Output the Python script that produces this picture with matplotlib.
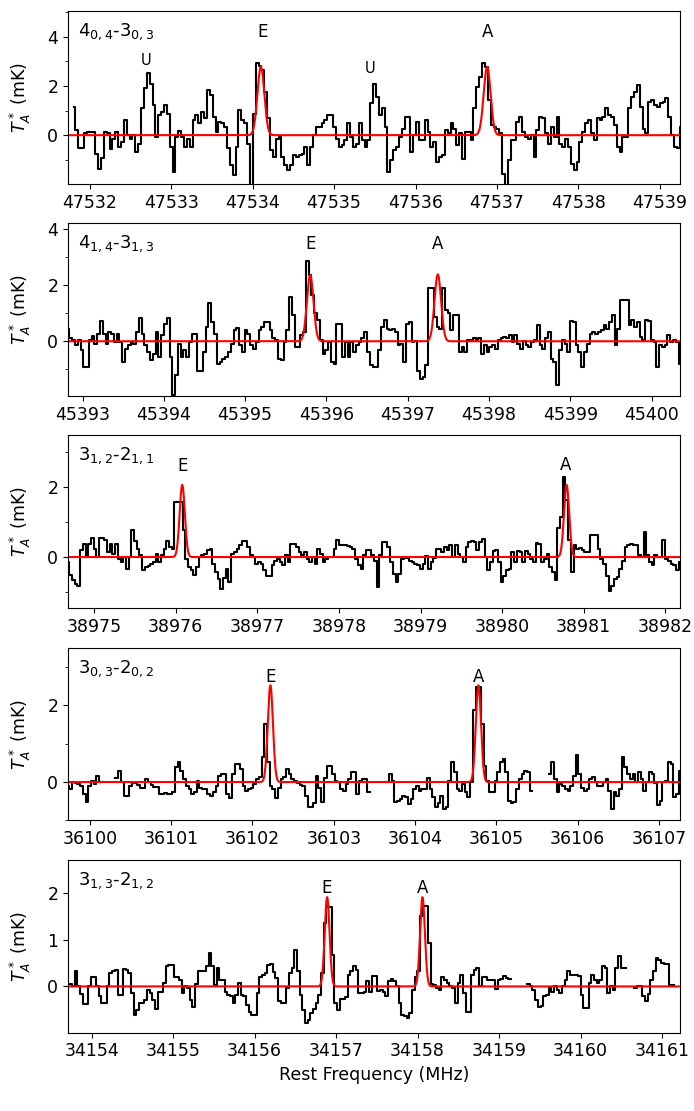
import numpy as np
import matplotlib.pyplot as plt
from matplotlib.ticker import MultipleLocator

plt.rcParams['axes.formatter.useoffset'] = False

# ---- observed spectra (mK), one value per channel, NaN = no data ----
spec_4044 = [1.16, 0.2, -0.54, -0.54, 0.07, 0.14, 0.14, 0.14, -0.78, -1.36, -0.91, 0.14, 0.07, -0.58, -0.14, 0.14,
             -0.48, -0.27, 0.61, 0, -0.14, 0, -0.68, -0.34, 1.09, 1.9, 2.54, 2.1, 1.22, -0.07, 0.82, 0.95, 1.22, 0.88,
             -0.48, -1.5, -0.07, 0.16, -0.07, -0.48, -0.14, -0.48, 0.61, 0.82, 0.48, 0.95, 0.68, 1.84, 1.63, 0.75, 0.14,
             0.54, 0.48, 0.34, -0.54, -1.22, -1.63, -0.48, 1.02, 0.61, 0.48, -0.34, -2.3, 0.88, 2.95, 2.8, 2.65, 1.77,
             0.68, -0.61, -0.88, -0.14, -0.07, -0.88, -1.22, -1.43, -1.22, -0.82, -0.88, -0.82, -0.75, -0.48, -1.22,
             -0.48, 0, 0.34, 0.34, 0.48, 0.61, 0.82, 0.82, 0.34, -0.14, -0.48, -0.41, -0.2, 0.48, -0.07, -0.48, -0.34,
             0.5, -0.2, -0.48, -0.2, 1.29, 2.1, 1.56, 0.82, 1.09, 0.34,
             -1.5, -1.02, -0.61, -0.48, -0.07, 0.27, 0.75, 0.75, -0.68, 0, 0.54, -0.2, -0.2, 0.61, 0.14, -0.48, -0.27,
             -1.09, -0.88, -0.82, 0.2, 0.07, 0.48, 0.27, -0.41, 0.07, -0.95, 0.14, 0.14, -0.2, 1.09, 1.97, 2.38, 2.92,
             2.79, 1.43, 0.41, 0.34, 0.27, 0.07, -1.56, -2.2, -1.02, -0.2, -0.2, 0.54, 0.75, 0.14, -0.07, -0.14, 0,
             -0.88, 0.2, 0.75, 0.68, 0.07, -0.34, 0.34, -0.07, 0.75, -0.34, -0.48, -0.14, -0.48, -1.16, -1.43, -1.09,
             -0.27, 0.14, 0.48, 0.61, 0.07, -0.2, 0.68, 0.61, 0.75, 1.09, 0.82, 0.75, 0.41, -0.48, -0.68, -0.07, -0.07,
             1.09, 1.56, 1.77, 2.04, 1.16, 0.27, 0.07, 1.36, 1.43, 1.22, 1.16, 1.29, 1.36, 1.5, 0.75, 0, -0.48, -0.54,
             0.34, 1.29]

spec_4131 = [0.43, 0.10, 0.04, -0.14, 0.04, -0.32, -0.92, -0.92, 0.04, 0.18, -0.08, 0.27, 0.71, 0.27, -0.08, 0.33,
             0.27, -0.02, 0.27, -0.02, -0.74, -0.26, -0.14, -0.02, -0.08, 0.33, 0.81, 0.27, -0.14, -0.38, -0.68, -0.44,
             0.33, -0.56, 0.21, 0.63, 0.81, -0.56, -1.90, -1.21, -0.08, -0.56, -0.32, -0.56, -0.02, 0.27, 0.27, -1.04,
             -1.04, -0.38, 0.51, 1.35, 0.69, 0.27, -0.80, -0.74, -0.62, -0.56, -0.38, -0.08, 0.39, 0.48, -0.14, -0.38,
             0.39, 0.27, -0.14, -0.26, -0.02, 0.39, 0.51, 0.69, 0.69, 0.39, 0.10, 0.04, -0.62, -0.68, -0.02, 0.39, 1.58,
             0.93, -0.20, -0.20, 0.21, 0.33, 2.86, 2.36, 1.64, 0.99, 0.75, 0.04, -0.44, -0.32, -0.02, -0.74, -0.80,
             0.63, 0.60, -0.56, -0.02, -0.56, -0.02, -0.38, -0.14, -0.02, 0.10, 0.33, -0.38, -0.86, -0.92, -0.92,
             -0.32, 0.51, 0.75, 0.45, 0.39, 0.43, 0.33, -0.14, -0.08, -0.74, 0.63, 0.67, -0.02, 0, -1.04, -1.33, -1.27,
             -0.86, 1.90, 1.90, 0.87, 0.51, 0.45, 1.88, 1.11, 0.99, 0.39, 0.93, 0.93, -0.38, -0.20, -0.38, 0.04, 0.04,
             0.10, 0.04, 0.12, -0.44, -0.14, -0.38, -0.20, -0.14, -0.26, 0.04, 0.10, 0.15, 0.10, 0.21, -0.02, 0.21,
             -0.08, -0.26, 0, -0.14, -0.20, -0.02, 0.04, 0.57, -0.14, -0.29, 0.10, 0.33, -0.62, -0.74, -1.57, -0.32,
             0.04, -0.08, -0.38, 0.71, 0.69, -0.14, -0.38, -0.92, -0.38, -0.08, 0.27, 0.33, 0.27, 0.33, 0.39, 0.57,
             0.45, 0.69, 0.93, -0.14, 0.45, 1.46, 1.46, 1.46, 0.57, 0.75, 0.51, 0.69, 0.15, 0.04, 0.75, 0.71, 0.04,
             -0.02, -0.92, -0.14, -0.20, -0.14, 0.21, -0.02, 0.04, -0.02, -0.80]

spec_3121 = [-0.14, -0.51, -0.67, -0.77, -0.82, 0.19, 0.38, 0, 0.38, 0.55, 0.24, 0, 0.55, 0.55, 0.48, 0.14, 0.38,
             0.10, 0.38, -0.05, -0.14, 0, -0.34, 0, 0.77, 0.45, 0.24, 0.05, -0.36, -0.29, -0.26, -0.19, -0.14, 0.10,
             -0.13, 0.07, 0.24, 0.45, 0.29, 0.24, 1.57, 1.57, 1.57, 0.77, -0.05, -0.29, -0.38, -0.51, -0.29, 0, 0.05,
             0.10, 0.19, 0.24, -0.19, -0.43, -0.64, -0.91, -0.61, -0.34, -0.72, 0.10, 0.14, 0.24, 0.34, 0.45, 0.45,
             0.29, 0.05, 0, -0.19, -0.14, -0.19, -0.36, -0.53, -0.53, -0.24, -0.10, -0.05, -0.14, -0.24, 0.05, -0.14,
             0.38, 0.38, 0.29, 0.14, 0.05, 0.14, -0.05, -0.14, 0, -0.19, 0.24, 0.10, -0.14, -0.07, 0, 0, 0.24, 0.48,
             0.36, 0.34, 0.34, 0.32, 0.29, 0.24, -0.05, -0.24, -0.34, 0.05, 0.19, 0.19, 0.05, -0.10, -0.87,
             0.05, 0.43, 0.43, 0.29, -0.14, -0.48, -0.72, -0.48, -0.07, 0, -0.03, -0.10, -0.14, -0.19, -0.24, -0.34,
             -0.19, 0.03, -0.34, -0.14, -0.03, 0.24, 0.24, 0.14, 0.29, 0.19, 0.34, 0, 0.34, 0.10, 0, -0.14, 0.29, 0.43,
             0.45, 0.43, 0.19, 0.43, 0.51, 0, -0.38, -0.14, 0.16, 0.19, -0.14, -0.72, -0.53, -0.38, -0.34, 0.14, -0.14,
             0.16, 0.14, -0.14, 0.16, 0.10, -0.05, -0.14, 0.41, 0.38, -0.14, -0.05, 0.10, -0.29, -0.43, -0.67, 0.84,
             1.15, 2.31, 1.63, 0.48, -0.43, 0.34, 0.24, 0.26, 0.19, 0.14, 0.14, 0.63, 0.63, 0.63, 0.24, -0.05, -0.19,
             -0.53, -0.96, -0.82, -0.63, -0.58, -0.34, -0.10, 0.29, 0.36, 0.38, 0.34, 0.34, 0.05, 0, 0.72, 0.05, -0.14,
             -0.24, 0.05, 0, 0, 0.48, -0.05, -0.10, -0.19, -0.24, -0.38, -0.14]

nan = np.nan
spec_3020 = [-0.09, -0.19, 0, -0.02, -0.04, -0.09, -0.30, -0.52, -0.09, 0.04, -0.04, 0.17, 0,
             nan, nan, nan, nan, nan,
             0.10, 0.30, 0, -0.37, -0.37, -0.09, -0.02, -0.02, -0.07, -0.16, -0.16, 0.09, 0, -0.07, -0.13, -0.13,
             -0.30, -0.30, -0.28, -0.30, -0.30, -0.26, 0.39, 0.52, 0.28, 0.09, -0.09, -0.17, -0.30, -0.26, 0.02, -0.16,
             -0.17, -0.19, -0.30, -0.35, -0.26, -0.09, 0.17, 0.22, 0.22, -0.30, -0.42, 0.22, 0.48, 0.48, 0.35, -0.09,
             -0.22, -0.17, -0.16, -0.04, 0.09, 0.13, 0.65, 1.50, 0.52, -0.09, -0.19, -0.42, -0.16, 0.07, 0.13, 0.33,
             0.22, 0.07, 0.04, -0.02, -0.07, -0.09, -0.35, -0.65, -0.65, -0.54, 0.16, -0.16, -0.52, 0.10, 0.43, 0.43,
             0.22, 0.04, 0, -0.17, -0.22, -0.04, 0.09, 0.26, 0.26, -0.30, 0.02, 0.09, 0.09, -0.26,
             nan, nan, nan, nan, nan, nan,
             0, 0.20, 0.04, -0.52, -0.50, -0.45, -0.37, -0.39, -0.57, -0.43, -0.19, -0.09, -0.22, -0.17, -0.17, 0.10,
             -0.19, -0.39, -0.65, -0.54, -0.35, -0.70, -0.65, 0.04, 0.52, 0.26, -0.17, -0.24, -0.04, -0.26, -0.39, 0,
             1.87, 2.48, 2.48, 1.52, 0.43, 0.04, -0.26, -0.26, 0.02, 0.26, 0.52, 0.59, 0.26, -0.50, -0.54, -0.52,
             -0.17, 0.09, 0.22, 0.30, 0.26, -0.22,
             nan, nan, nan, nan, nan, nan,
             0.22, 0.52, 0.09, -0.26, -0.04, -0.09, -0.17, -0.24, -0.09, 0.17, 0.70, 0.22, -0.16, -0.22, -0.17, 0.09,
             0.12, 0, -0.09, -0.10, 0, 0.09, -0.22, -0.70, -0.26, -0.35, -0.17, 0.65, 0.39, 0.22, 0.09, 0.22, 0, 0.26,
             0.09, -0.22, 0, 0.26, 0.22, -0.02, -0.59, -0.48, 0, 0.04, 0.52, 0.48, -0.39, -0.30, 0.30]

spec_3121b = [0.06, 0.06, 0.01, 0.32, 0.01, -0.16, -0.38, -0.38, 0, 0.20, 0.20, 0, -0.21, -0.36, -0.36, 0, 0.29,
              0.32, 0.36, -0.18, -0.18, 0.37, 0.36, 0.29, -0.14, -0.61, -0.50, -0.36, -0.36, -0.29, -0.07, -0.13,
              -0.29, -0.49, -0.11, -0.11, 0.07, 0.43, 0.46, 0.46, 0.21, 0.20, 0.14, -0.14, 0, -0.04, -0.29, -0.43,
              0.06, 0.32, 0.34, 0.34, 0.43, 0.71, 0.43, 0.04, 0.39, 0.14, 0.14, -0.11, -0.18, -0.21, -0.36, -0.18,
              0.07, -0.18, -0.21, -0.39, -0.54, -0.61, -0.61, -0.14, 0.21, 0.25, 0.29, 0.46, 0.49, 0.30, 0.18, -0.32,
              -0.36, -0.36, -0.04, 0.29, 0.39, 0.79, 0.32, -0.18, -0.50, -0.79, -0.71, -0.57, -0.49, -0.36, -0.18,
              0.29, 1.36, 1.71, 1.71, 0.68, -0.36, -0.51, -0.27, -0.27, -0.23, 0.25, 0.32, 0.44, 0.36, -0.14, -0.14,
              -0.11, 0.11, -0.11, 0.23, 0.23, -0.09, -0.07,
              -0.11, -0.21, 0.11, 0.16, 0.11, 0, -0.36, -0.61, -0.64, -0.68, -0.57, -0.07, 0.21, 0.32, 1.51, 1.73,
              1.73, 0.93, 0.06, 0.04, -0.04, -0.07, 0.21, 0.14, 0.07, 0, -0.04, -0.36, 0.07, 0.25, -0.14, -0.54, -0.54,
              0.25, 0.36, 0.39, 0, 0.21, 0.21, 0.14, 0.14, 0.14, -0.06, 0.14, 0.16, 0.23, 0.18, 0.16,
              nan, nan, nan, nan, nan, nan,
              0.06, 0.01, -0.07, -0.29, -0.43, -0.41, -0.21, -0.18, -0.04, -0.11, 0, -0.07, -0.13, 0, 0.14, 0.32,
              0.25, 0.25, 0.25, 0.23, -0.18, -0.46, -0.46, 0.07, 0.25, 0.14, 0.07, 0.14, 0.43, 0.39, -0.14, 0, -0.07,
              0.39, 0.66, 0.39, 0.39,
              nan, nan, nan,
              -0.04, 0, 0, -0.20, -0.32, -0.16, 0.14, 0.32, 0.61, 0.57, 0.50, 0.49, 0.49, 0.04, 0.04,
              nan, nan]

spectra = [spec_4044, spec_4131, spec_3121, spec_3020, spec_3121b]

transitions = [r'4$_{0,4}$-3$_{0,3}$', r'4$_{1,4}$-3$_{1,3}$', r'3$_{1,2}$-2$_{1,1}$',
               r'3$_{0,3}$-2$_{0,2}$', r'3$_{1,3}$-2$_{1,2}$']

# first / last channel frequency of each spectrum (MHz)
chan_span = [(47531.80, 47539.30), (45392.82, 45400.35), (38974.68, 38982.18),
             (36099.73, 36107.26), (34153.71, 34161.20)]

xlims = [(47531.73, 47539.25), (45392.82, 45400.35), (38974.68, 38982.18),
         (36099.73, 36107.26), (34153.71, 34161.22)]
ylims = [(-1.98, 5.05), (-1.95, 4.2), (-1.47, 3.49), (-1.0, 3.5), (-0.99, 2.71)]

# Gaussian fits: E and A components (centre MHz, peak mK, FWHM MHz)
fit_e = [(47534.10, 2.78, 0.10), (45395.80, 2.36, 0.095), (38976.08, 2.07, 0.075),
         (36102.22, 2.52, 0.075), (34156.89, 1.91, 0.07)]
fit_a = [(47536.88, 2.78, 0.10), (45397.37, 2.38, 0.095), (38980.79, 2.07, 0.075),
         (36104.78, 2.52, 0.075), (34158.06, 1.91, 0.07)]

# line tags (text, x MHz, y mK, fontsize)
tags = [[('E', 47534.12, 4.0, 12), ('A', 47536.88, 4.0, 12), ('U', 47532.69, 2.86, 10.5), ('U', 47535.44, 2.52, 10.5)],
        [('E', 45395.80, 3.29, 12), ('A', 45397.37, 3.29, 12)],
        [('E', 38976.08, 2.47, 12), ('A', 38980.78, 2.50, 12)],
        [('E', 36102.22, 2.60, 12), ('A', 36104.78, 2.60, 12)],
        [('E', 34156.88, 1.99, 12), ('A', 34158.06, 1.99, 12)]]

major_step = [2, 2, 2, 2, 1]

fig, axes = plt.subplots(5, 1, figsize=(6.94, 11.11), dpi=100)
fig.subplots_adjust(left=68/694, right=680/694, top=1-11/1111, bottom=1-1032.7/1111, hspace=0.2275)

for i, ax in enumerate(axes):
    x0, x1 = xlims[i]
    vals = np.array(spectra[i], dtype=float)
    freq = np.linspace(chan_span[i][0], chan_span[i][1], len(vals))
    ax.step(freq, vals, where='mid', color='k', lw=1.5)

    xf = np.linspace(x0, x1, 3000)
    model = np.zeros_like(xf)
    for c, amp, fw in (fit_e[i], fit_a[i]):
        model += amp * np.exp(-4*np.log(2)*(xf - c)**2 / fw**2)
    ax.plot(xf, model, color='r', lw=1.5)

    ax.set_xlim(x0, x1)
    ax.set_ylim(*ylims[i])
    ax.yaxis.set_major_locator(MultipleLocator(major_step[i]))
    if major_step[i] == 2:
        ax.yaxis.set_minor_locator(MultipleLocator(1))
    ax.xaxis.set_major_locator(MultipleLocator(1))
    ax.tick_params(labelsize=12.5)
    ax.set_ylabel(r'$T_A^*$ (mK)', fontsize=12.5)
    ax.yaxis.set_label_coords(-0.058, 0.5)

    ax.text(0.017, 0.855, transitions[i], transform=ax.transAxes, fontsize=13, va='baseline', ha='left')
    for t, tx, ty, fs in tags[i]:
        ax.text(tx, ty, t, ha='center', va='baseline', fontsize=fs)

axes[-1].set_xlabel('Rest Frequency (MHz)', fontsize=12.5)

fig.savefig('out.png', dpi=100)
